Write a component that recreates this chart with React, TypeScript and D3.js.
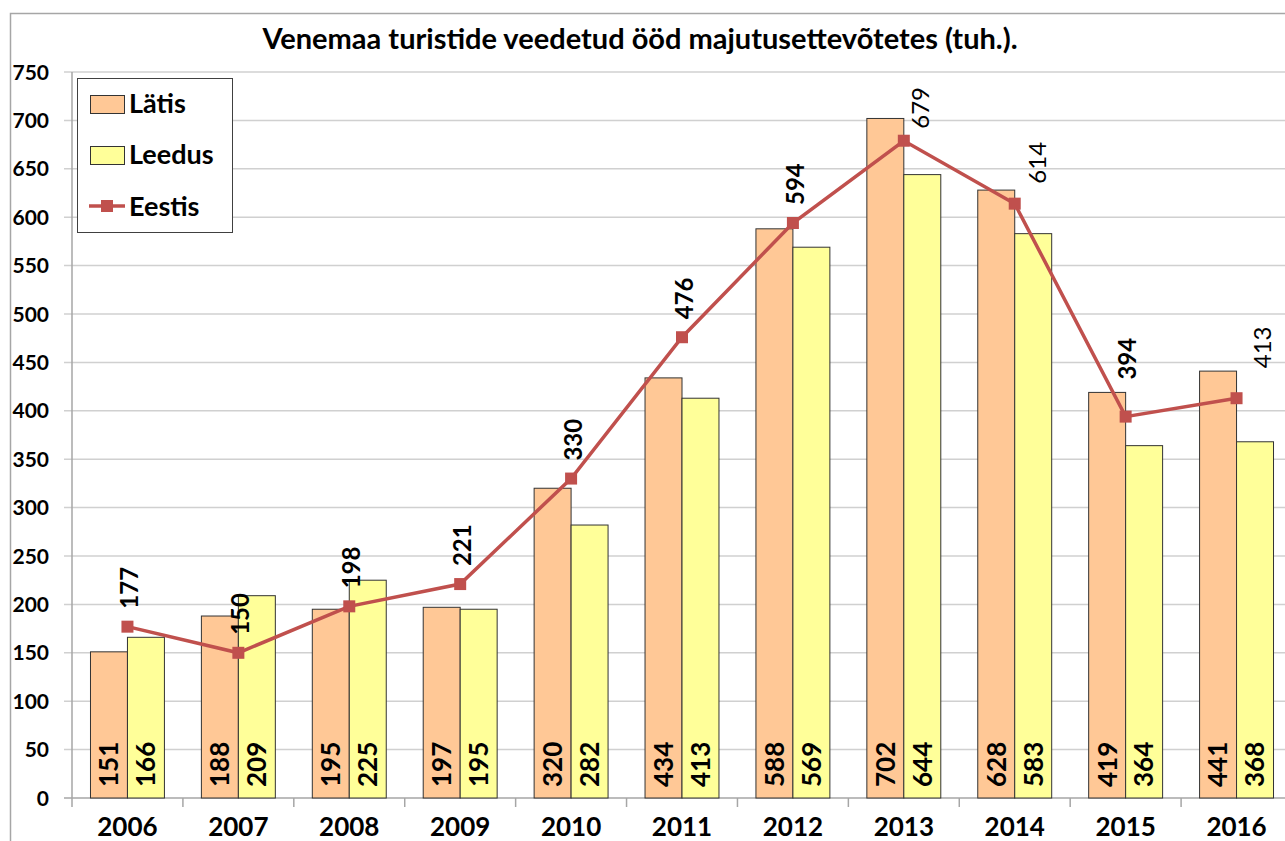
import React from 'react';
import * as d3 from 'd3';

// data (thousand nights)
const years = ['2006', '2007', '2008', '2009', '2010', '2011', '2012', '2013', '2014', '2015', '2016'];
const latis = [151, 188, 195, 197, 320, 434, 588, 702, 628, 419, 441];
const leedus = [166, 209, 225, 195, 282, 413, 569, 644, 583, 364, 368];
const eestis = [177, 150, 198, 221, 330, 476, 594, 679, 614, 394, 413];
const yTicks = [0, 50, 100, 150, 200, 250, 300, 350, 400, 450, 500, 550, 600, 650, 700, 750];

// label placement tweaks for the Eestis labels (moved by hand in the original)
const labelDx = [0, 0, 0, 0, 0, 0, 0, 15, 21, 0, 24];
const labelGap = [18, 18, 18, 18, 18, 18, 18, 12, 20, 37, 30];
const labelBold = [true, true, true, true, true, true, true, false, false, true, false];

const W = 1285;
const H = 841;
const FONT = 'Lato, "Open Sans", sans-serif';
const colLatis = '#FFC896';
const colLeedus = '#FFFF99';
const colLine = '#C0504D';

const App = () => {
    const left = 72, right = 1292, top = 72, bottom = 798;

    const x = d3.scaleBand().domain(years).range([left, right]).paddingInner(0).paddingOuter(0);
    const y = d3.scaleLinear().domain([0, 750]).range([bottom, top]);
    const bw = x.bandwidth();
    const barW = bw / 3;

    const line = d3.line<number>()
        .x((d, i) => (x(years[i]) as number) + bw / 2)
        .y(d => y(d));

    return (
        <svg width={W} height={H} style={{ position: 'absolute', left: 0, top: 0, background: '#fff' }}
            fontFamily={FONT}>
            <rect x={10.5} y={13.5} width={1400} height={1000} fill="#fff" stroke="#A6A6A6" strokeWidth={1.5} />

            <text x={640} y={49} textAnchor="middle" fontSize={29} fontWeight="bold">
                Venemaa turistide veedetud ööd majutusettevõtetes (tuh.).
            </text>

            {/* grid + y ticks */}
            {yTicks.map(t => (
                <g key={t}>
                    <line x1={left - 8} x2={right} y1={y(t)} y2={y(t)}
                        stroke={t === 0 ? '#A6A6A6' : '#D0D0D0'} strokeWidth={1.5} />
                    <text x={49} y={y(t)} dy="0.36em" textAnchor="end" fontSize={21} fontWeight="bold">{t}</text>
                </g>
            ))}
            <line x1={left} x2={left} y1={top} y2={bottom} stroke="#A6A6A6" strokeWidth={1.5} />
            {years.map((yr, i) => (
                <g key={yr}>
                    <line x1={(x(yr) as number)} x2={(x(yr) as number)} y1={bottom} y2={bottom + 9}
                        stroke="#A6A6A6" strokeWidth={1.5} />
                    <text x={(x(yr) as number) + bw / 2} y={836} textAnchor="middle" fontSize={26} fontWeight="bold">{yr}</text>
                </g>
            ))}

            {/* bars */}
            {years.map((yr, i) => {
                const x0 = (x(yr) as number) + barW / 2;
                return (
                    <g key={'b' + yr}>
                        <rect x={x0} y={y(latis[i])} width={barW} height={bottom - y(latis[i])}
                            fill={colLatis} stroke="#333" strokeWidth={1} />
                        <rect x={x0 + barW} y={y(leedus[i])} width={barW} height={bottom - y(leedus[i])}
                            fill={colLeedus} stroke="#333" strokeWidth={1} />
                        <text transform={`translate(${x0 + barW / 2},${bottom - 11}) rotate(-90)`}
                            dy="0.36em" fontSize={26} fontWeight="bold">{latis[i]}</text>
                        <text transform={`translate(${x0 + barW * 1.5},${bottom - 11}) rotate(-90)`}
                            dy="0.36em" fontSize={26} fontWeight="bold">{leedus[i]}</text>
                    </g>
                );
            })}

            {/* Eestis line */}
            <path d={line(eestis) as string} fill="none" stroke={colLine} strokeWidth={3.5} />
            {eestis.map((v, i) => {
                const cx = (x(years[i]) as number) + bw / 2;
                return (
                    <g key={'e' + i}>
                        <rect x={cx - 6} y={y(v) - 6} width={12} height={12} fill={colLine} />
                        <text transform={`translate(${cx + 2 + labelDx[i]},${y(v) - labelGap[i]}) rotate(-90)`}
                            dy="0.36em" fontSize={24} fontWeight={labelBold[i] ? 'bold' : 'normal'}>{v}</text>
                    </g>
                );
            })}

            {/* legend */}
            <rect x={77.5} y={78.5} width={155} height={154} fill="#fff" stroke="#404040" strokeWidth={1} />
            <rect x={90.5} y={95.5} width={34} height={18} fill={colLatis} stroke="#333" strokeWidth={1} />
            <text x={129} y={113} fontSize={27} fontWeight="bold">Lätis</text>
            <rect x={90.5} y={146.5} width={34} height={18} fill={colLeedus} stroke="#333" strokeWidth={1} />
            <text x={129} y={164} fontSize={27} fontWeight="bold">Leedus</text>
            <line x1={89} x2={125} y1={206} y2={206} stroke={colLine} strokeWidth={3.5} />
            <rect x={101} y={200} width={12} height={12} fill={colLine} />
            <text x={129} y={216} fontSize={27} fontWeight="bold">Eestis</text>
        </svg>
    );
};

export default App;
